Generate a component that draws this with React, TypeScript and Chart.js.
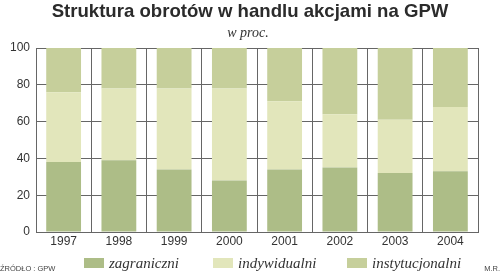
import React, { useEffect, useRef } from "react";
import { Chart, registerables } from "chart.js";

Chart.register(...registerables);

const years = ["1997", "1998", "1999", "2000", "2001", "2002", "2003", "2004"];
const zagraniczni = [38, 39, 34, 28, 34, 35, 32, 33];
const indywidualni = [38, 39, 44, 50, 37, 29, 29, 35];
const instytucjonalni = [24, 22, 22, 22, 29, 36, 39, 32];
const seriesNames = ["zagraniczni", "indywidualni", "instytucjonalni"];
const seriesColors = ["#adbd87", "#e2e6bb", "#c6cf9b"];
const yTickValues = [0, 20, 40, 60, 80, 100];

const titleText = "Struktura obrotów w handlu akcjami na GPW";
const subtitleText = "w proc.";
const sourceText = "ŹRÓDŁO : GPW";
const authorText = "M.R.";

const decorPlugin = {
  id: "decor",
  afterDraw(chart: any) {
    const ctx = chart.ctx as CanvasRenderingContext2D;
    ctx.save();
    // title
    ctx.fillStyle = "#2b2b2b";
    ctx.textAlign = "center";
    ctx.textBaseline = "middle";
    ctx.font = "bold 18.6px 'Liberation Sans', Arial, sans-serif";
    ctx.fillText(titleText, 250, 12);
    ctx.font = "italic 14px 'Liberation Serif', serif";
    ctx.fillStyle = "#333";
    ctx.fillText(subtitleText, 248, 33);
    // footer
    ctx.font = "7.5px 'Liberation Sans', Arial, sans-serif";
    ctx.fillStyle = "#444";
    ctx.textAlign = "left";
    ctx.fillText(sourceText, 0, 269);
    ctx.textAlign = "right";
    ctx.fillText(authorText, 500, 269);
    // legend
    const boxX = [84, 213, 347];
    ctx.textAlign = "left";
    ctx.textBaseline = "alphabetic";
    ctx.font = "italic 15px 'Liberation Serif', serif";
    chart.data.datasets.forEach((ds: any, i: number) => {
      ctx.fillStyle = ds.backgroundColor;
      ctx.fillRect(boxX[i], 258, 20, 10);
      ctx.fillStyle = "#333";
      ctx.fillText(ds.label, boxX[i] + 25, 268);
    });
    ctx.restore();
  },
};

export default function App() {
  const ref = useRef<HTMLCanvasElement | null>(null);
  useEffect(() => {
    if (!ref.current) return;
    const data = [zagraniczni, indywidualni, instytucjonalni];
    const chart = new Chart(ref.current, {
      type: "bar",
      data: {
        labels: years,
        datasets: data.map((d, i) => ({
          label: seriesNames[i],
          data: d,
          backgroundColor: seriesColors[i],
          borderWidth: 0,
          barPercentage: 0.63,
          categoryPercentage: 1,
        })),
      },
      options: {
        responsive: false,
        animation: false,
        layout: { padding: { top: 48, right: 22, bottom: 0, left: 0 } },
        plugins: {
          legend: { display: false },
          title: { display: false },
          tooltip: { enabled: false },
        },
        scales: {
          x: {
            stacked: true,
            offset: true,
            grid: { offset: true, color: "#666", lineWidth: 1, drawTicks: false },
            border: { color: "#666" },
            ticks: {
              color: "#333",
              font: { family: "'Liberation Sans', Arial, sans-serif", size: 12 },
              padding: 2,
            },
            afterFit: (s: any) => {
              s.height = 44;
            },
          },
          y: {
            stacked: true,
            min: 0,
            max: 100,
            afterBuildTicks: (s: any) => {
              s.ticks = yTickValues.map((v) => ({ value: v }));
            },
            grid: { color: "#666", lineWidth: 1, drawTicks: false },
            border: { color: "#666" },
            ticks: {
              color: "#333",
              font: { family: "'Liberation Sans', Arial, sans-serif", size: 12 },
              padding: 6,
            },
            afterFit: (s: any) => {
              s.width = 36;
            },
          },
        },
      },
      plugins: [decorPlugin],
    });
    return () => chart.destroy();
  }, []);
  return (
    <div style={{ position: "fixed", left: 0, top: 0, width: 500, height: 276, background: "#fff" }}>
      <canvas ref={ref} width={500} height={276} />
    </div>
  );
}
